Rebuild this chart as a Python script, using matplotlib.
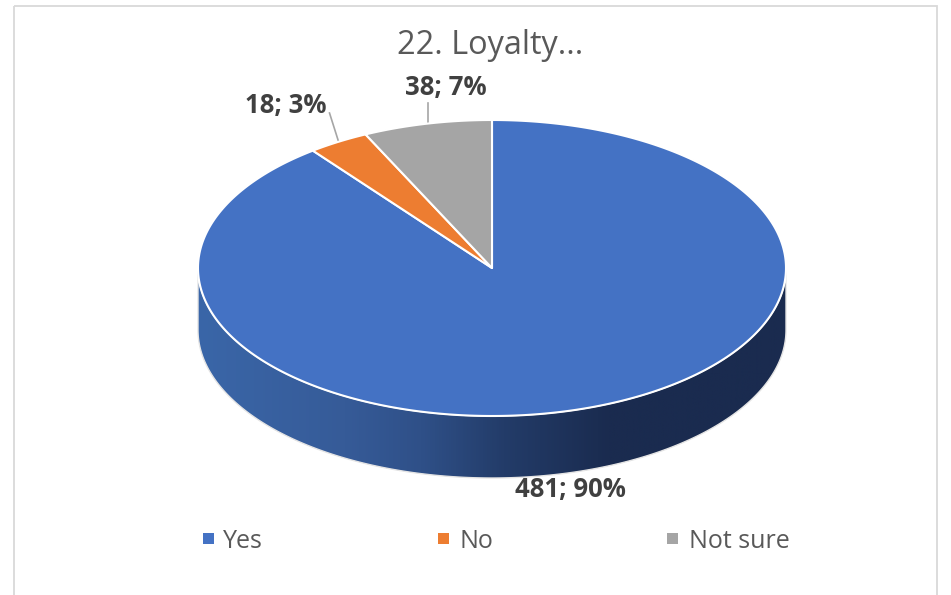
#!/usr/bin/env python3
import matplotlib
matplotlib.use("Agg")
import matplotlib.pyplot as plt
import numpy as np
from matplotlib.colors import LinearSegmentedColormap
from matplotlib.patches import Polygon, Rectangle

# data
categories = ["Yes", "No", "Not sure"]
counts = [481, 18, 38]
percents = [90, 3, 7]
colors = ["#4472C4", "#ED7D31", "#A5A5A5"]
title = "22. Loyalty..."

plt.rcParams["font.family"] = ["Open Sans", "DejaVu Sans"]

# pie geometry, in picture pixels
cx, cy = 492, 268
rx, ry = 294, 148
depth = 62


def rim(t):
    # t clockwise from the top of the pie
    return cx + rx * np.sin(t), cy - ry * np.cos(t)


fig = plt.figure(figsize=(9.51, 5.95), dpi=100)
ax = fig.add_axes([0, 0, 1, 1])
ax.set_xlim(0, 951)
ax.set_ylim(595, 0)
ax.axis("off")

# chart frame
ax.add_patch(Rectangle((13.5, 5.5), 923, 600, fill=False, ec="#D9D9D9", lw=1.3))

# side wall with the gradient, light on the left and dark on the right
t = np.linspace(np.pi / 2, 3 * np.pi / 2, 300)
x, y = rim(t)
wall = np.vstack([np.column_stack([x, y]),
                  np.column_stack([x[::-1], y[::-1] + depth])])
side_cmap = LinearSegmentedColormap.from_list(
    "side", [(0, "#3A66A8"), (0.25, "#365B98"), (0.38, "#2F5088"), (0.52, "#233C69"),
             (0.7, "#1A2B4F"), (1, "#1A2B4F")])
grad = np.linspace(0, 1, 600)[None, :]
im = ax.imshow(grad, cmap=side_cmap, vmin=0, vmax=1,
               extent=[cx - rx, cx + rx, cy + ry + depth, cy], aspect="auto", zorder=2)
clip = Polygon(wall, closed=True, transform=ax.transData, fc="none", ec="none")
ax.add_patch(clip)
im.set_clip_path(clip)
ax.set_xlim(0, 951)
ax.set_ylim(595, 0)
ax.add_patch(Polygon(wall, closed=True, fill=False, ec="#E4E4E4", lw=1.0, zorder=3))

# top face, clockwise from 12 o'clock
start = 0.0
total = sum(counts)
for v, c in zip(counts, colors):
    end = start + 2 * np.pi * v / total
    tt = np.linspace(start, end, 400)
    xs, ys = rim(tt)
    pts = np.column_stack([np.r_[cx, xs], np.r_[cy, ys]])
    ax.add_patch(Polygon(pts, closed=True, fc=c, ec="white", lw=1.5, zorder=4,
                         joinstyle="round"))
    start = end

# leader lines
ax.plot([329.5, 339], [113, 143], color="#A6A6A6", lw=1.2, zorder=3)
ax.plot([428, 428], [103, 125], color="#A6A6A6", lw=1.2, zorder=3)

# labels
label_pos = [(570, 490), (286, 106), (446, 88)]
for n, p, (lx, ly) in zip(counts, percents, label_pos):
    ax.text(lx, ly, f"{n}; {p}%", ha="center", va="center", fontsize=18.5,
            fontweight="bold", color="#404040", zorder=6)

ax.text(490, 45.5, title, ha="center", va="center", fontsize=23.4, color="#595959")

# legend
marker_x = [208, 443, 672]
text_x = [223, 459, 689]
for name, c, mx, tx in zip(categories, colors, marker_x, text_x):
    ax.add_patch(Rectangle((mx - 5.5, 533), 11, 11, fc=c, ec="none"))
    ax.text(tx, 541, name, ha="left", va="center", fontsize=18, color="#595959")

fig.savefig("out.png", dpi=100)
